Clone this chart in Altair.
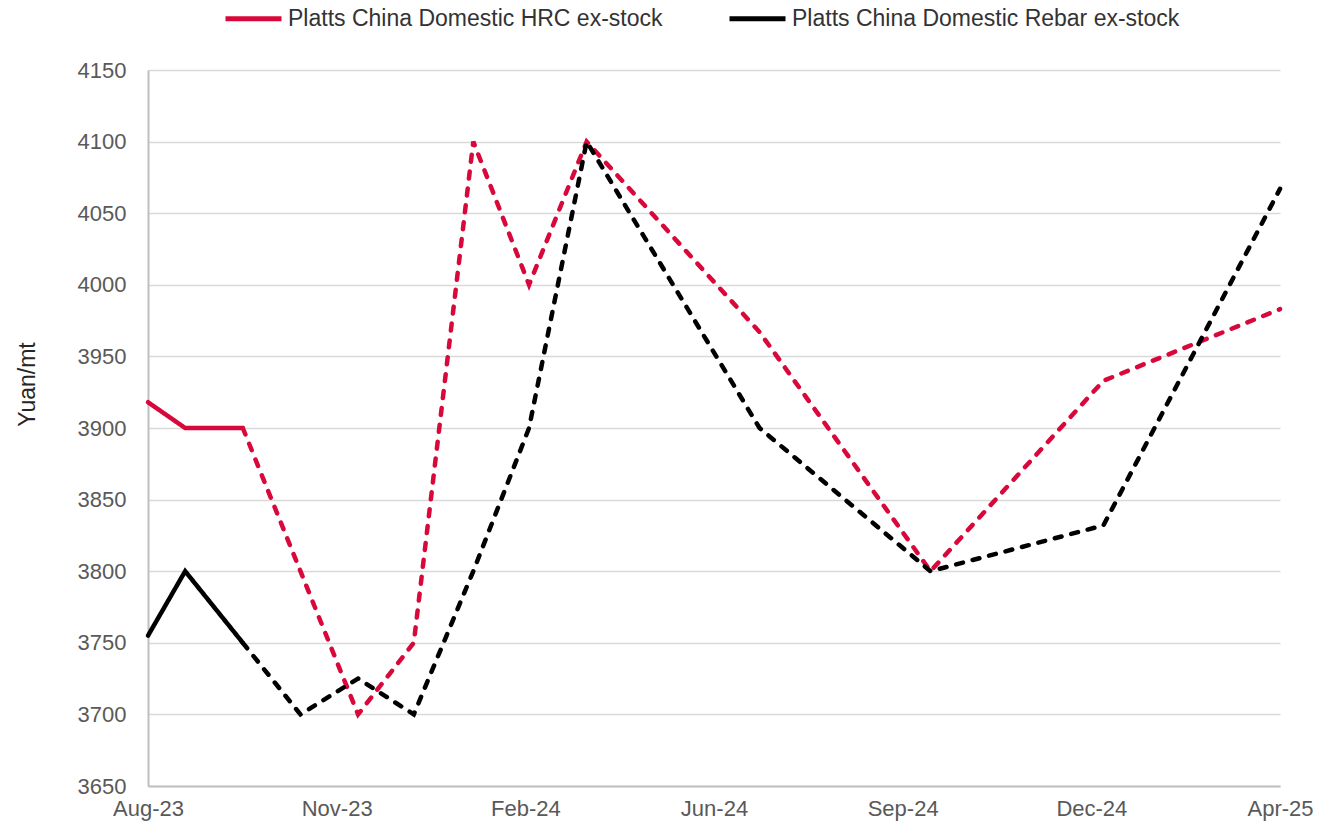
import altair as alt
import pandas as pd

# Observation dates and prices (Yuan/mt)
dates = ["2023-08-01", "2023-08-21", "2023-09-21", "2023-10-22", "2023-11-22",
         "2023-12-22", "2024-01-23", "2024-02-22", "2024-03-24", "2024-06-25",
         "2024-09-25", "2024-12-27", "2025-04-01"]
hrc = [3918, 3900, 3900, 3800, 3700, 3750, 4100, 4000, 4100, 3967, 3800, 3933, 3983]
rebar = [3755, 3800, 3750, 3700, 3725, 3700, 3800, 3900, 4100, 3900, 3800, 3832, 4067]

series_names = ["Platts China Domestic HRC ex-stock", "Platts China Domestic Rebar ex-stock"]
series_colors = ["#D9083A", "#000000"]

# Actual values up to this index, forecasts (dashed) from it onward
last_actual = 2

x_labels = ["Aug-23", "Nov-23", "Feb-24", "Jun-24", "Sep-24", "Dec-24", "Apr-25"]
y_ticks = list(range(3650, 4151, 50))

start = pd.Timestamp(dates[0])
end = pd.Timestamp(dates[-1])
span = (end - start).days
steps = len(x_labels) - 1
x_ticks = [span * k / steps for k in range(len(x_labels))]

rows = []
for name, vals in zip(series_names, [hrc, rebar]):
    for i, (d, v) in enumerate(zip(dates, vals)):
        day = (pd.Timestamp(d) - start).days
        if i <= last_actual:
            rows.append({"series": name, "day": day, "value": v, "part": "actual", "order": i})
        if i >= last_actual:
            rows.append({"series": name, "day": day, "value": v, "part": "forecast", "order": i})
df = pd.DataFrame(rows)

label_list = "[" + ",".join(f"'{s}'" for s in x_labels) + "]"
label_expr = f"{label_list}[round(datum.value * {steps} / {span})]"

FONT = "Liberation Sans"

chart = (
    alt.Chart(df)
    .mark_line(strokeWidth=4.5, strokeCap="round", strokeJoin="miter")
    .encode(
        x=alt.X(
            "day:Q",
            scale=alt.Scale(domain=[0, span], nice=False, zero=False),
            axis=alt.Axis(
                values=x_ticks,
                labelExpr=label_expr,
                title=None,
                grid=False,
                ticks=False,
                labelFontSize=22,
                labelColor="#595959",
                labelPadding=12,
                domainColor="#bfbfbf",
                domainWidth=2,
                labelFlush=False,
            ),
        ),
        y=alt.Y(
            "value:Q",
            scale=alt.Scale(domain=[3650, 4150], nice=False, zero=False),
            axis=alt.Axis(
                values=y_ticks,
                format="d",
                title="Yuan/mt",
                titleFontSize=23,
                titleFontWeight="normal",
                titleColor="#262626",
                titleAngle=-90,
                titleAlign="center",
                titleBaseline="middle",
                titleX=-121,
                titleY=314,
                grid=True,
                gridColor="#d9d9d9",
                gridWidth=1.5,
                ticks=False,
                labelFontSize=22,
                labelColor="#595959",
                labelPadding=22,
                domainColor="#bfbfbf",
                domainWidth=2,
            ),
        ),
        color=alt.Color(
            "series:N",
            scale=alt.Scale(domain=series_names, range=series_colors),
            legend=alt.Legend(
                title=None,
                orient="none",
                legendX=75,
                legendY=-82,
                direction="horizontal",
                symbolType="stroke",
                symbolSize=3136,
                symbolStrokeWidth=5,
                labelFontSize=23,
                labelColor="#333333",
                labelLimit=700,
                labelOffset=4,
                columnPadding=56,
                padding=0,
            ),
        ),
        strokeDash=alt.StrokeDash(
            "part:N",
            scale=alt.Scale(domain=["actual", "forecast"], range=[[1, 0], [7, 10]]),
            legend=None,
        ),
        order="order:Q",
    )
    .properties(
        width=1132,
        height=716,
        autosize=alt.AutoSizeParams(type="none"),
        padding={"left": 148, "top": 70, "right": 37, "bottom": 43},
    )
    .configure(font=FONT)
    .configure_view(stroke=None)
    .configure_axis(labelFont=FONT, titleFont=FONT)
    .configure_legend(labelFont=FONT)
)

chart.save("out.html", embed_options={"renderer": "svg", "actions": False})
